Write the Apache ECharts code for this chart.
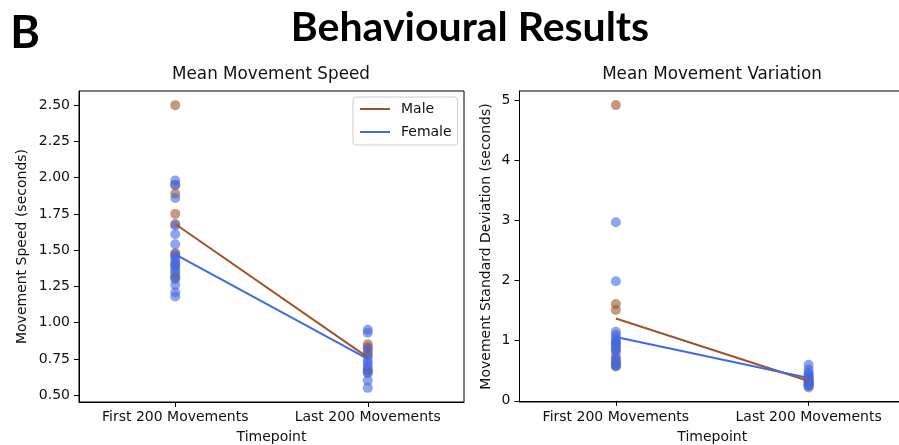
<!DOCTYPE html>
<html>
<head>
<meta charset="utf-8">
<script src="https://cdn.jsdelivr.net/npm/echarts@6/dist/echarts.min.js"></script>
<style>html,body{margin:0;padding:0;background:#fff;}#c{width:899px;height:445px;}</style>
</head>
<body>
<div id="c"></div>
<script>
const categories = ['First 200 Movements', 'Last 200 Movements'];

// Mean Movement Speed (seconds)
const speedMaleFirst = [2.50, 1.95, 1.89, 1.75, 1.68, 1.48, 1.46, 1.40, 1.32, 1.31];
const speedMaleLast = [0.85, 0.83, 0.80, 0.78, 0.67, 0.66];
const speedFemaleFirst = [1.98, 1.95, 1.86, 1.67, 1.61, 1.54, 1.47, 1.44, 1.42, 1.40, 1.38, 1.36, 1.34, 1.30, 1.26, 1.21, 1.18];
const speedFemaleLast = [0.95, 0.93, 0.82, 0.77, 0.74, 0.72, 0.70, 0.68, 0.65, 0.60, 0.55];
const speedMaleMean = [1.68, 0.76];
const speedFemaleMean = [1.47, 0.75];

// Mean Movement Variation (SD, seconds)
const sdMaleFirst = [4.92, 1.61, 1.51, 0.95, 0.85, 0.72, 0.65, 0.60, 0.58];
const sdMaleLast = [0.40, 0.33, 0.30, 0.27, 0.25];
const sdFemaleFirst = [2.97, 1.99, 1.15, 1.10, 1.05, 1.00, 0.97, 0.93, 0.90, 0.85, 0.80, 0.70, 0.65, 0.60, 0.57];
const sdFemaleLast = [0.60, 0.52, 0.47, 0.44, 0.40, 0.38, 0.35, 0.32, 0.30, 0.28, 0.25, 0.22];
const sdMaleMean = [1.37, 0.33];
const sdFemaleMean = [1.06, 0.38];

const speedTicks = [0.5, 0.75, 1.0, 1.25, 1.5, 1.75, 2.0, 2.25, 2.5];
const sdTicks = [0, 1, 2, 3, 4, 5];

const MALE = '#a0522d';
const FEMALE = '#4169e1';
const FONT = '"DejaVu Sans", sans-serif';

function pts(first, last) {
  return first.map(v => [categories[0], v]).concat(last.map(v => [categories[1], v]));
}
function meanLine(m) { return m.map((v, i) => [categories[i], v]); }

function xAxisCfg(gi) {
  return {
    type: 'category', gridIndex: gi, data: categories, boundaryGap: true,
    name: 'Timepoint', nameLocation: 'middle', nameGap: 28,
    nameTextStyle: {fontFamily: FONT, fontSize: 14, color: '#111'},
    axisLine: {show: true, lineStyle: {color: '#000', width: 1}},
    axisTick: {show: true, alignWithLabel: true, interval: 0, length: 5, lineStyle: {color: '#000'}},
    axisLabel: {fontFamily: FONT, fontSize: 14, color: '#111', margin: 8, interval: 0, hideOverlap: false},
    splitLine: {show: false}
  };
}
function yAxisCfg(gi, min, max, ticks, name, gap, fmt) {
  return {
    type: 'value', gridIndex: gi, min: min, max: max,
    name: name, nameLocation: 'middle', nameGap: gap, nameRotate: 90,
    nameTextStyle: {fontFamily: FONT, fontSize: 14, color: '#111'},
    axisLine: {show: true, lineStyle: {color: '#000', width: 1}},
    axisTick: {show: true, length: 5, customValues: ticks, lineStyle: {color: '#000'}},
    axisLabel: {fontFamily: FONT, fontSize: 14, color: '#111', margin: 9, customValues: ticks, formatter: fmt},
    splitLine: {show: false}
  };
}

const chart = echarts.init(document.getElementById('c'), null, {renderer: 'canvas'});
chart.setOption({
  animation: false,
  backgroundColor: '#fff',
  graphic: [
    {type: 'text', x: 25, y: 33, style: {text: 'B', font: 'bold 45px Lato, sans-serif', fill: '#000', textAlign: 'center', textVerticalAlign: 'middle'}},
    {type: 'text', x: 470, y: 28, style: {text: 'Behavioural Results', font: 'bold 41px Lato, sans-serif', fill: '#000', textAlign: 'center', textVerticalAlign: 'middle'}},
    {type: 'text', x: 271, y: 75, style: {text: 'Mean Movement Speed', font: '16.8px "DejaVu Sans", sans-serif', fill: '#111', textAlign: 'center', textVerticalAlign: 'middle'}},
    {type: 'text', x: 712, y: 75, style: {text: 'Mean Movement Variation', font: '16.8px "DejaVu Sans", sans-serif', fill: '#111', textAlign: 'center', textVerticalAlign: 'middle'}}
  ],
  grid: [
    {left: 79, top: 91, width: 385, height: 311, show: true, borderColor: '#000', borderWidth: 1, backgroundColor: '#fff', containLabel: false, outerBoundsMode: 'none'},
    {left: 519.5, top: 91, width: 385.5, height: 311, show: true, borderColor: '#000', borderWidth: 1, backgroundColor: '#fff', containLabel: false, outerBoundsMode: 'none'}
  ],
  xAxis: [xAxisCfg(0), xAxisCfg(1)],
  yAxis: [
    yAxisCfg(0, 0.4525, 2.5975, speedTicks, 'Movement Speed (seconds)', 50, v => v.toFixed(2)),
    yAxisCfg(1, -0.02, 5.155, sdTicks, 'Movement Standard Deviation (seconds)', 26, v => String(v))
  ],
  legend: {
    orient: 'vertical', left: 353, top: 97,
    padding: [5, 6, 6, 7], itemGap: 9, itemWidth: 30, itemHeight: 2,
    borderColor: '#ccc', borderWidth: 1, borderRadius: 3, backgroundColor: '#fff',
    textStyle: {fontFamily: FONT, fontSize: 14, color: '#111', padding: [0, 0, 0, 6]},
    data: [{name: 'Male', icon: 'rect'}, {name: 'Female', icon: 'rect'}]
  },
  series: [
    {type: 'scatter', name: 'Male pts 1', xAxisIndex: 0, yAxisIndex: 0, symbolSize: 10, itemStyle: {color: MALE, opacity: 0.6}, data: pts(speedMaleFirst, speedMaleLast), z: 2},
    {type: 'scatter', name: 'Female pts 1', xAxisIndex: 0, yAxisIndex: 0, symbolSize: 10, itemStyle: {color: FEMALE, opacity: 0.6}, data: pts(speedFemaleFirst, speedFemaleLast), z: 2},
    {type: 'line', name: 'Male', xAxisIndex: 0, yAxisIndex: 0, symbol: 'none', lineStyle: {color: MALE, width: 2}, itemStyle: {color: MALE}, data: meanLine(speedMaleMean), z: 3},
    {type: 'line', name: 'Female', xAxisIndex: 0, yAxisIndex: 0, symbol: 'none', lineStyle: {color: FEMALE, width: 2}, itemStyle: {color: FEMALE}, data: meanLine(speedFemaleMean), z: 3},
    {type: 'scatter', name: 'Male pts 2', xAxisIndex: 1, yAxisIndex: 1, symbolSize: 10, itemStyle: {color: MALE, opacity: 0.6}, data: pts(sdMaleFirst, sdMaleLast), z: 2},
    {type: 'scatter', name: 'Female pts 2', xAxisIndex: 1, yAxisIndex: 1, symbolSize: 10, itemStyle: {color: FEMALE, opacity: 0.6}, data: pts(sdFemaleFirst, sdFemaleLast), z: 2},
    {type: 'line', name: 'Male sd', xAxisIndex: 1, yAxisIndex: 1, symbol: 'none', lineStyle: {color: MALE, width: 2}, itemStyle: {color: MALE}, data: meanLine(sdMaleMean), z: 3},
    {type: 'line', name: 'Female sd', xAxisIndex: 1, yAxisIndex: 1, symbol: 'none', lineStyle: {color: FEMALE, width: 2}, itemStyle: {color: FEMALE}, data: meanLine(sdFemaleMean), z: 3}
  ]
});
</script>
</body>
</html>
